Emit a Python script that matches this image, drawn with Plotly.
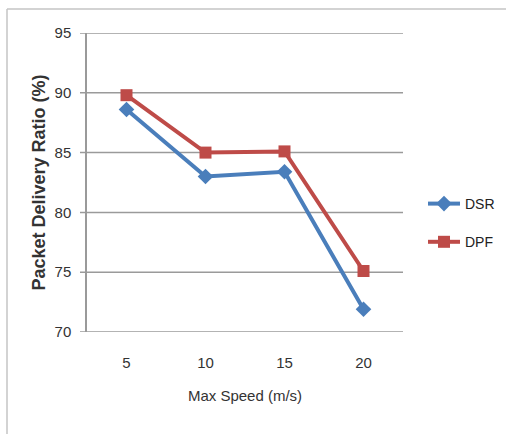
import plotly.graph_objects as go

speeds = ["5", "10", "15", "20"]
dsr = [88.6, 83.0, 83.4, 71.9]
dpf = [89.8, 85.0, 85.1, 75.1]
y_ticks = [70, 75, 80, 85, 90, 95]
y_range = [70, 95]

FONT = "Liberation Sans, Arial, sans-serif"
GRID = "#9a9a9a"
W, H = 506, 434
L, R, T, B = 87, 103, 33, 102
pw, ph = W - L - R, H - T - B

def px(x):
    return (x - L) / pw

def py(y):
    return (H - B - y) / ph

fig = go.Figure()
fig.add_trace(go.Scatter(x=speeds, y=dsr, name="DSR", mode="lines+markers",
                         line=dict(color="#4a7ebb", width=4),
                         marker=dict(symbol="diamond", size=12, color="#4a7ebb"),
                         legendgroup="a"))
fig.add_trace(go.Scatter(x=speeds, y=dpf, name="DPF", mode="lines+markers",
                         line=dict(color="#be4b48", width=4),
                         marker=dict(symbol="square", size=12, color="#be4b48"),
                         legendgroup="b"))

grid_lines = [dict(type="line", xref="paper", yref="y", x0=px(80), x1=1,
                   y0=v, y1=v, line=dict(color=GRID, width=1.5), layer="below")
              for v in y_ticks]

fig.update_layout(
    width=W, height=H,
    margin=dict(l=L, r=R, t=T, b=B, autoexpand=False),
    paper_bgcolor="white", plot_bgcolor="white",
    font=dict(family=FONT, size=14, color="#333333"),
    showlegend=True,
    legend=dict(x=px(423), y=py(188), xanchor="left", yanchor="top",
                tracegroupgap=17, font=dict(size=14, color="#222222"),
                bgcolor="rgba(0,0,0,0)", itemwidth=32),
    xaxis=dict(type="category", range=[-0.5, 3.5], showgrid=False, zeroline=False,
               showline=False, ticks="", tickfont=dict(size=15),
               ticklabelstandoff=20,
               title=dict(text="Max Speed (m/s)", font=dict(size=15), standoff=20)),
    yaxis=dict(range=y_range, tickvals=y_ticks, showgrid=False, zeroline=False,
               showline=True, linecolor=GRID, linewidth=1.5,
               ticks="", tickfont=dict(size=15), ticklabelstandoff=11,
               title=dict(text="<b>Packet Delivery Ratio (%)</b>",
                          font=dict(size=18), standoff=4)),
    shapes=grid_lines + [
        dict(type="line", xref="paper", yref="paper",
             x0=px(7), x1=px(515), y0=py(9), y1=py(9),
             line=dict(color="#c4c4c4", width=1.5)),
        dict(type="line", xref="paper", yref="paper",
             x0=px(7), x1=px(7), y0=py(9), y1=py(440),
             line=dict(color="#c4c4c4", width=1.5)),
    ],
)

fig.write_html("out.html")
